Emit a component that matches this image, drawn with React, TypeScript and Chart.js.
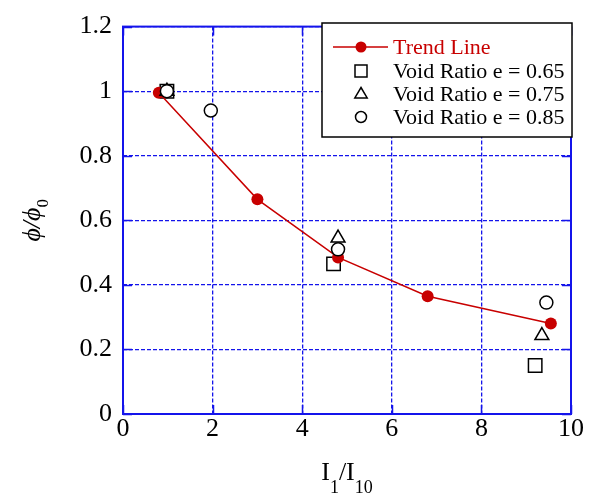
import React, { useEffect, useRef } from 'react';
import { Chart, registerables } from 'chart.js';

Chart.register(...registerables);

// Trend line through the mean values
const trendX = [0.8, 3.0, 4.8, 6.8, 9.55];
const trendY = [0.995, 0.665, 0.485, 0.365, 0.28];

// Measured points for each void ratio
const e065X = [0.98, 4.7, 9.2];
const e065Y = [1.0, 0.465, 0.15];
const e075X = [0.98, 4.8, 9.35];
const e075Y = [1.0, 0.545, 0.243];
const e085X = [0.98, 1.96, 4.8, 9.45];
const e085Y = [1.0, 0.94, 0.51, 0.345];

const xTicks = [0, 2, 4, 6, 8, 10];
const yTicks = [0, 0.2, 0.4, 0.6, 0.8, 1, 1.2];

const legendLabels = [
  'Trend Line',
  'Void Ratio e = 0.65',
  'Void Ratio e = 0.75',
  'Void Ratio e = 0.85',
];

const BLUE = 'rgb(20,20,235)';
const RED = 'rgb(200,0,0)';
const SERIF = "'Liberation Serif', 'Times New Roman', serif";

const toPoints = (xs: number[], ys: number[]) => xs.map((x, i) => ({ x, y: ys[i] }));

function drawMarker(ctx: CanvasRenderingContext2D, kind: string, x: number, y: number, r: number) {
  ctx.beginPath();
  if (kind === 'rect') {
    ctx.rect(x - r, y - r, 2 * r, 2 * r);
  } else if (kind === 'triangle') {
    ctx.moveTo(x, y - r);
    ctx.lineTo(x + r * 0.95, y + r * 0.6);
    ctx.lineTo(x - r * 0.95, y + r * 0.6);
    ctx.closePath();
  } else {
    ctx.arc(x, y, r, 0, Math.PI * 2);
  }
}

const framePlugin = {
  id: 'frameAndLabels',
  afterDraw(chart: any) {
    const { ctx, chartArea: a, scales } = chart;
    const xs = scales.x;
    const ys = scales.y;
    ctx.save();

    // plot frame with inward ticks
    ctx.strokeStyle = BLUE;
    ctx.lineWidth = 2;
    ctx.setLineDash([]);
    ctx.strokeRect(a.left, a.top, a.right - a.left, a.bottom - a.top);
    ctx.lineWidth = 1.5;
    const tl = 9;
    ctx.beginPath();
    xTicks.forEach((v) => {
      const px = Math.round(xs.getPixelForValue(v)) + 0.5;
      ctx.moveTo(px, a.bottom);
      ctx.lineTo(px, a.bottom - tl);
      ctx.moveTo(px, a.top);
      ctx.lineTo(px, a.top + tl);
    });
    yTicks.forEach((v) => {
      const py = Math.round(ys.getPixelForValue(v)) + 0.5;
      ctx.moveTo(a.left, py);
      ctx.lineTo(a.left + tl, py);
      ctx.moveTo(a.right, py);
      ctx.lineTo(a.right - tl, py);
    });
    ctx.stroke();

    // x-axis title: I1/I10
    ctx.fillStyle = '#000';
    ctx.textBaseline = 'alphabetic';
    ctx.textAlign = 'left';
    const big = `26px ${SERIF}`;
    const small = `18px ${SERIF}`;
    const parts: [string, string, number][] = [
      ['I', big, 0],
      ['1', small, 13],
      ['/I', big, 0],
      ['10', small, 13],
    ];
    let total = 0;
    parts.forEach(([t, f]) => {
      ctx.font = f;
      total += ctx.measureText(t).width;
    });
    let cx = (a.left + a.right) / 2 - total / 2;
    const base = 480;
    parts.forEach(([t, f, dy]) => {
      ctx.font = f;
      ctx.fillText(t, cx, base + dy);
      cx += ctx.measureText(t).width;
    });

    // y-axis title: phi/phi0 (rotated)
    ctx.save();
    ctx.translate(40, (a.top + a.bottom) / 2);
    ctx.rotate(-Math.PI / 2);
    const yParts: [string, string, number][] = [
      ['\u03D5/\u03D5', `italic 26px ${SERIF}`, 0],
      ['0', `17px ${SERIF}`, 8],
    ];
    let yt = 0;
    yParts.forEach(([t, f]) => {
      ctx.font = f;
      yt += ctx.measureText(t).width;
    });
    let yx = -yt / 2;
    yParts.forEach(([t, f, dy]) => {
      ctx.font = f;
      ctx.fillText(t, yx, dy);
      yx += ctx.measureText(t).width;
    });
    ctx.restore();

    // legend box
    const bx = 322, by = 23, bw = 250, bh = 114;
    ctx.fillStyle = '#fff';
    ctx.fillRect(bx, by, bw, bh);
    ctx.strokeStyle = '#000';
    ctx.lineWidth = 1.5;
    ctx.strokeRect(bx, by, bw, bh);

    const rowY = [47, 71, 94, 117];
    const markX = 361;
    const textX = 393;
    ctx.font = `22px ${SERIF}`;
    ctx.textBaseline = 'middle';
    legendLabels.forEach((label, i) => {
      const y = rowY[i];
      if (i === 0) {
        ctx.strokeStyle = RED;
        ctx.lineWidth = 1.5;
        ctx.beginPath();
        ctx.moveTo(333, y);
        ctx.lineTo(388, y);
        ctx.stroke();
        ctx.fillStyle = RED;
        drawMarker(ctx, 'circle', markX, y, 5.5);
        ctx.fill();
        ctx.fillStyle = RED;
      } else {
        const kind = i === 1 ? 'rect' : i === 2 ? 'triangle' : 'circle';
        const r = i === 1 ? 6 : i === 2 ? 6.5 : 5.5;
        ctx.strokeStyle = '#000';
        ctx.lineWidth = 1.5;
        ctx.fillStyle = '#fff';
        drawMarker(ctx, kind, markX, y, r);
        ctx.fill();
        ctx.stroke();
        ctx.fillStyle = '#000';
      }
      ctx.fillText(label, textX, y + 1);
    });

    ctx.restore();
  },
};

export default function App() {
  const ref = useRef<HTMLCanvasElement | null>(null);

  useEffect(() => {
    if (!ref.current) return;
    const chart = new Chart(ref.current, {
      type: 'scatter',
      data: {
        datasets: [
          {
            label: legendLabels[3],
            data: toPoints(e085X, e085Y),
            pointStyle: 'circle',
            pointRadius: 6.5,
            pointBackgroundColor: '#fff',
            pointBorderColor: '#000',
            pointBorderWidth: 1.5,
            order: 0,
          },
          {
            label: legendLabels[2],
            data: toPoints(e075X, e075Y),
            pointStyle: 'triangle',
            pointRadius: 8,
            pointBackgroundColor: '#fff',
            pointBorderColor: '#000',
            pointBorderWidth: 1.5,
            order: 1,
          },
          {
            label: legendLabels[0],
            data: toPoints(trendX, trendY),
            showLine: true,
            borderColor: RED,
            borderWidth: 1.5,
            pointStyle: 'circle',
            pointRadius: 6,
            pointBackgroundColor: RED,
            pointBorderColor: RED,
            pointBorderWidth: 0,
            order: 2,
          },
          {
            label: legendLabels[1],
            data: toPoints(e065X, e065Y),
            pointStyle: 'rect',
            pointRadius: 9.5,
            pointBackgroundColor: 'rgba(255,255,255,0)',
            pointBorderColor: '#000',
            pointBorderWidth: 1.5,
            order: 3,
          },
        ],
      },
      options: {
        responsive: false,
        animation: false,
        devicePixelRatio: 1,
        layout: { padding: { left: 0, right: 27, top: 23, bottom: 0 } },
        plugins: {
          legend: { display: false },
          tooltip: { enabled: false },
        },
        scales: {
          x: {
            type: 'linear',
            min: 0,
            max: 10,
            afterBuildTicks: (s: any) => {
              s.ticks = xTicks.map((v) => ({ value: v }));
            },
            afterFit: (s: any) => {
              s.height = 85;
            },
            ticks: {
              color: '#000',
              font: { family: SERIF, size: 26 },
              padding: 0,
              maxRotation: 0,
              callback: (v: any) => String(v),
            },
            grid: { color: BLUE, lineWidth: 1.3, drawTicks: false },
            border: { display: false, dash: [4, 2] },
          },
          y: {
            type: 'linear',
            min: 0,
            max: 1.2,
            afterBuildTicks: (s: any) => {
              s.ticks = yTicks.map((v) => ({ value: v }));
            },
            afterFit: (s: any) => {
              s.width = 123;
            },
            ticks: {
              color: '#000',
              font: { family: SERIF, size: 26 },
              padding: 11,
              callback: (v: any) => String(v),
            },
            grid: { color: BLUE, lineWidth: 1.3, drawTicks: false },
            border: { display: false, dash: [4, 2] },
          },
        },
      },
      plugins: [framePlugin],
    });
    return () => chart.destroy();
  }, []);

  return (
    <div style={{ position: 'fixed', left: 0, top: 0, width: 598, height: 499, background: '#fff' }}>
      <canvas ref={ref} width={598} height={499} style={{ width: 598, height: 499, display: 'block' }} />
    </div>
  );
}
